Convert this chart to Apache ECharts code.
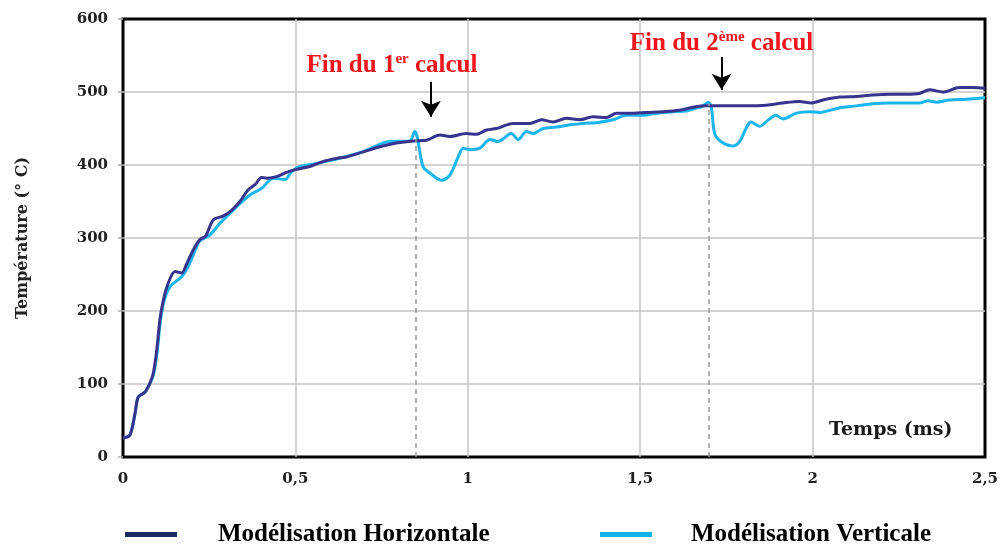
<!DOCTYPE html>
<html>
<head>
<meta charset="utf-8">
<script src="https://cdn.jsdelivr.net/npm/echarts@6/dist/echarts.min.js"></script>
<style>
  html, body { margin: 0; padding: 0; background: #fff; }
  #chart { width: 1003px; height: 545px; }
</style>
</head>
<body>
<div id="chart"></div>
<script>
// Temperature histories (time in ms, temperature in °C)
var timeH = [0, 0.02, 0.035, 0.044, 0.064, 0.078, 0.088, 0.098, 0.107, 0.117, 0.131, 0.151, 0.17, 0.185, 0.204, 0.223, 0.24, 0.262, 0.29, 0.315, 0.339, 0.363, 0.383, 0.402, 0.417, 0.445, 0.474, 0.503, 0.542, 0.581, 0.619, 0.648, 0.697, 0.745, 0.793, 0.841, 0.88, 0.919, 0.948, 0.996, 1.025, 1.054, 1.083, 1.131, 1.18, 1.214, 1.247, 1.286, 1.325, 1.363, 1.402, 1.431, 1.48, 1.518, 1.566, 1.614, 1.653, 1.692, 1.72, 1.769, 1.817, 1.866, 1.914, 1.962, 1.996, 2.03, 2.078, 2.127, 2.175, 2.223, 2.272, 2.31, 2.339, 2.378, 2.426, 2.465, 2.5];
var tempH = [26, 30, 60, 82, 89, 101, 115, 147, 188, 215, 238, 254, 252, 265, 284, 298, 303, 325, 330, 338, 350, 366, 373, 383, 382, 384, 390, 394, 398, 405, 409, 411, 418, 425, 430, 433, 434, 441, 439, 443, 442, 448, 450, 457, 457, 462, 459, 464, 462, 466, 465, 471, 471, 472, 473, 475, 479, 481, 481, 481, 481, 482, 485, 487, 485, 489, 493, 494, 496, 497, 497, 498, 503, 500, 506, 506, 505];

var timeV = [0, 0.02, 0.035, 0.044, 0.064, 0.078, 0.088, 0.098, 0.107, 0.117, 0.136, 0.17, 0.19, 0.21, 0.223, 0.252, 0.281, 0.33, 0.368, 0.402, 0.436, 0.47, 0.489, 0.513, 0.55, 0.6, 0.65, 0.7, 0.769, 0.832, 0.846, 0.853, 0.87, 0.89, 0.924, 0.948, 0.972, 0.987, 1.006, 1.035, 1.064, 1.088, 1.126, 1.146, 1.17, 1.189, 1.218, 1.257, 1.296, 1.334, 1.373, 1.421, 1.46, 1.508, 1.547, 1.595, 1.634, 1.663, 1.68, 1.697, 1.706, 1.716, 1.735, 1.769, 1.788, 1.822, 1.846, 1.875, 1.894, 1.914, 1.953, 1.991, 2.02, 2.059, 2.088, 2.127, 2.175, 2.223, 2.272, 2.31, 2.335, 2.359, 2.397, 2.446, 2.5];
var tempV = [26, 30, 60, 82, 89, 101, 112, 140, 180, 210, 233, 247, 262, 284, 296, 304, 320, 343, 359, 368, 382, 380, 391, 398, 401, 406, 412, 419, 432, 433, 446, 439, 398, 389, 379, 386, 411, 423, 421, 423, 435, 432, 443, 435, 446, 443, 450, 452, 455, 457, 458, 462, 468, 468, 471, 473, 474, 478, 480, 486, 480, 443, 432, 426, 432, 459, 453, 463, 468, 463, 471, 473, 472, 476, 479, 481, 484, 485, 485, 485, 488, 486, 489, 490, 492];

var seriesNames = ['Modélisation Horizontale', 'Modélisation Verticale'];

// Ends of the two computation phases (ms) and where their markers sit
var calcEnds = [0.85, 1.7];
var calcEndTemps = [436, 484];
var arrowX = [0.893, 1.736];
var arrowTop = [514, 548];
var arrowTip = [466, 503];
var noteX = [0.78, 1.736];
var noteY = [536, 566];
var notes = ['{a|Fin du 1}{s|er}{a| calcul}', '{a|Fin du 2}{s|ème}{a| calcul}'];

function zip(xs, ys) {
  return xs.map(function (x, i) { return [x, ys[i]]; });
}

var serif = 'DejaVu Serif';
var noteSerif = 'Liberation Serif';

var chart = echarts.init(document.getElementById('chart'), null, { renderer: 'canvas' });

var option = {
  animation: false,
  backgroundColor: '#ffffff',
  grid: {
    left: 123, right: 18, top: 19, bottom: 88,
    show: true, borderColor: '#000', borderWidth: 3, backgroundColor: 'transparent'
  },
  xAxis: {
    type: 'value', min: 0, max: 2.5, interval: 0.5,
    axisLine: { show: false },
    axisTick: { show: false },
    axisLabel: {
      margin: 15, color: '#222', fontFamily: serif, fontWeight: 'bold', fontSize: 15,
      formatter: function (v) { return String(v).replace('.', ','); }
    },
    splitLine: { show: true, showMinLine: false, showMaxLine: false, lineStyle: { color: '#c4c4c4', width: 1.5 } }
  },
  yAxis: {
    type: 'value', min: 0, max: 600, interval: 100,
    name: 'Température (° C)', nameLocation: 'middle', nameGap: 92,
    nameTextStyle: { color: '#222', fontFamily: serif, fontWeight: 'bold', fontSize: 16 },
    axisLine: { show: false },
    axisTick: { show: true, length: 5, lineStyle: { color: '#aaa', width: 1.5 } },
    axisLabel: { margin: 15, color: '#222', fontFamily: serif, fontWeight: 'bold', fontSize: 15 },
    splitLine: { show: true, showMinLine: false, showMaxLine: false, lineStyle: { color: '#c4c4c4', width: 1.5 } }
  },
  legend: [
    {
      data: [seriesNames[0]], left: 120, top: 517, icon: 'rect', itemWidth: 52, itemHeight: 5,
      textStyle: { color: '#000', fontFamily: noteSerif, fontWeight: 'bold', fontSize: 25, padding: [0, 0, 0, 36] }
    },
    {
      data: [seriesNames[1]], left: 595, top: 517, icon: 'rect', itemWidth: 52, itemHeight: 5,
      textStyle: { color: '#000', fontFamily: noteSerif, fontWeight: 'bold', fontSize: 25, padding: [0, 0, 0, 34] }
    }
  ],
  graphic: [
    {
      type: 'text', left: 829, top: 421,
      style: { text: 'Temps (ms)', fill: '#1a1a1a', font: 'bold 19px "DejaVu Serif"' }
    }
  ],
  series: [
    {
      name: seriesNames[1], type: 'line', data: zip(timeV, tempV),
      smooth: 0.3, showSymbol: false, color: '#12b0ea',
      lineStyle: { color: '#1ab4ef', width: 3 },
      z: 3,
      markLine: {
        silent: true, symbol: ['none', 'arrow'], symbolSize: [15, 16],
        label: { show: false },
        lineStyle: { color: '#000', width: 2, type: 'solid' },
        data: arrowX.map(function (x, i) {
          return [{ coord: [x, arrowTop[i]] }, { coord: [x, arrowTip[i]] }];
        })
      },
      markPoint: {
        silent: true, symbol: 'circle', symbolSize: 1,
        itemStyle: { color: 'transparent' },
        data: notes.map(function (t, i) {
          return {
            coord: [noteX[i], noteY[i]],
            label: {
              show: true, position: 'inside', formatter: t,
              rich: {
                a: { fontFamily: noteSerif, fontWeight: 'bold', fontSize: 25, color: '#f0141c', lineHeight: 28 },
                s: { fontFamily: noteSerif, fontWeight: 'bold', fontSize: 15, color: '#f0141c', lineHeight: 14, verticalAlign: 'top' }
              }
            }
          };
        })
      }
    },
    {
      name: seriesNames[0], type: 'line', data: zip(timeH, tempH),
      smooth: 0.3, showSymbol: false, color: '#1c2b60',
      lineStyle: { color: '#38338d', width: 3 },
      z: 4,
      markLine: {
        silent: true, symbol: ['none', 'none'],
        label: { show: false },
        lineStyle: { color: '#9a9a9a', width: 1.5, type: [5, 4] },
        data: calcEnds.map(function (x, i) {
          return [{ coord: [x, 0] }, { coord: [x, calcEndTemps[i]] }];
        })
      }
    }
  ]
};

chart.setOption(option);
</script>
</body>
</html>
